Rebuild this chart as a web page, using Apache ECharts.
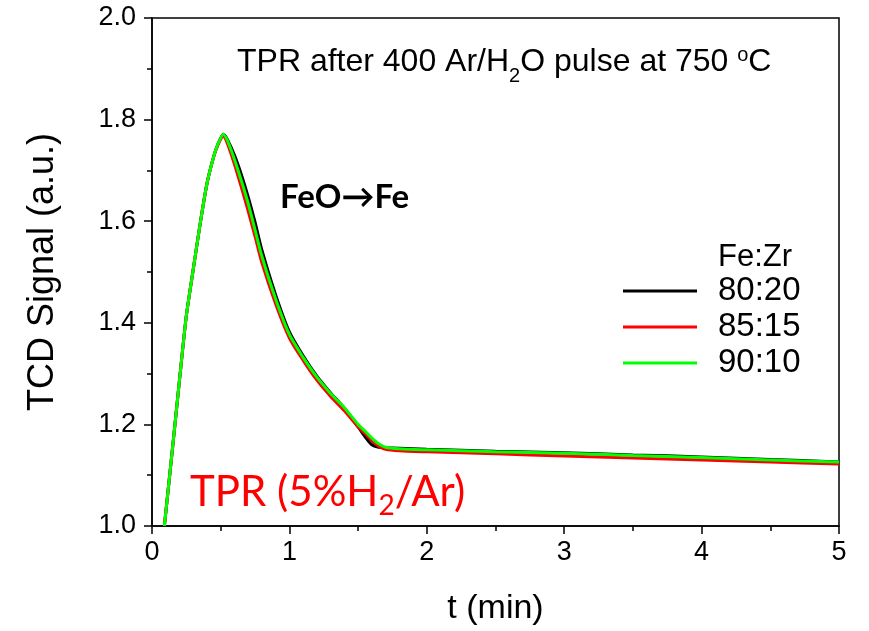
<!DOCTYPE html>
<html>
<head>
<meta charset="utf-8">
<script src="https://cdn.jsdelivr.net/npm/echarts@6/dist/echarts.min.js"></script>
<style>
html,body{margin:0;padding:0;background:#fff;}
#chart{width:869px;height:631px;}
</style>
</head>
<body>
<div id="chart"></div>
<script>
// ---- data ----
const timeMin = [0.09, 0.15, 0.20, 0.25, 0.30, 0.35, 0.40, 0.45, 0.48, 0.52, 0.55, 0.60, 0.65, 0.70, 0.75, 0.80, 0.90, 1.00, 1.10, 1.20, 1.30, 1.40, 1.50, 1.55, 1.60, 1.65, 1.70, 1.80, 2.00, 2.50, 3.00, 3.50, 4.00, 4.50, 5.00];
const signal8020 = [1.00, 1.155, 1.287, 1.414, 1.505, 1.594, 1.674, 1.728, 1.752, 1.771, 1.760, 1.730, 1.692, 1.648, 1.598, 1.543, 1.455, 1.382, 1.335, 1.295, 1.262, 1.232, 1.195, 1.176, 1.160, 1.155, 1.154, 1.153, 1.151, 1.147, 1.144, 1.140, 1.136, 1.131, 1.126];
const signal8515 = [1.00, 1.155, 1.287, 1.414, 1.505, 1.594, 1.674, 1.728, 1.750, 1.768, 1.752, 1.712, 1.667, 1.620, 1.570, 1.518, 1.437, 1.370, 1.326, 1.287, 1.255, 1.227, 1.195, 1.182, 1.168, 1.157, 1.151, 1.148, 1.146, 1.142, 1.138, 1.134, 1.130, 1.126, 1.122];
const signal9010 = [1.00, 1.155, 1.287, 1.414, 1.505, 1.594, 1.674, 1.728, 1.752, 1.771, 1.758, 1.722, 1.680, 1.635, 1.583, 1.531, 1.447, 1.377, 1.332, 1.293, 1.261, 1.233, 1.200, 1.187, 1.173, 1.162, 1.155, 1.152, 1.150, 1.146, 1.143, 1.139, 1.135, 1.130, 1.126];
const seriesNames = ['80:20', '85:15', '90:10'];
const seriesColors = ['#000000', '#ff0000', '#00ff00'];
const xTickLabels = ['0', '1', '2', '3', '4', '5'];
const yTickLabels = ['1.0', '1.2', '1.4', '1.6', '1.8', '2.0'];

function pairs(xs, ys) { return xs.map((x, i) => [x, ys[i]]); }
const allSignals = [signal8020, signal8515, signal9010];

const chart = echarts.init(document.getElementById('chart'), null, {renderer: 'canvas'});
const axisFont = 'Liberation Sans, Arial, sans-serif';
const calFont = 'Lato, "Open Sans", sans-serif';

const option = {
  backgroundColor: '#ffffff',
  animation: false,
  grid: {left: 152, top: 18, right: 30, bottom: 105, show: true, borderColor: '#000', borderWidth: 1.5, backgroundColor: 'transparent'},
  xAxis: {
    type: 'value', min: 0, max: 5, interval: 1,
    name: 't (min)', nameLocation: 'middle', nameGap: 66,
    nameTextStyle: {fontFamily: axisFont, fontSize: 34, color: '#000'},
    axisLine: {show: true, onZero: false, lineStyle: {color: '#000', width: 1.5}},
    axisTick: {show: true, inside: false, length: 8, lineStyle: {color: '#000', width: 1.5}},
    minorTick: {show: true, splitNumber: 2, length: 5, lineStyle: {color: '#000', width: 1.5}},
    splitLine: {show: false},
    axisLabel: {fontFamily: axisFont, fontSize: 27, color: '#000', margin: 13,
      formatter: v => xTickLabels[Math.round(v)] }
  },
  yAxis: {
    type: 'value', min: 1.0, max: 2.0, interval: 0.2,
    name: 'TCD Signal (a.u.)', nameLocation: 'middle', nameGap: 91, nameRotate: 90,
    nameTextStyle: {fontFamily: axisFont, fontSize: 36, color: '#000'},
    axisLine: {show: true, onZero: false, lineStyle: {color: '#000', width: 1.5}},
    axisTick: {show: true, inside: false, length: 8, lineStyle: {color: '#000', width: 1.5}},
    minorTick: {show: true, splitNumber: 2, length: 5, lineStyle: {color: '#000', width: 1.5}},
    splitLine: {show: false},
    axisLabel: {fontFamily: axisFont, fontSize: 27, color: '#000', margin: 16,
      formatter: v => yTickLabels[Math.round((v - 1) / 0.2)] }
  },
  legend: {
    orient: 'vertical', left: 618, top: 268, itemGap: 0,
    itemWidth: 74, itemHeight: 3, icon: 'rect',
    data: seriesNames,
    textStyle: {fontFamily: axisFont, fontSize: 33, color: '#000', lineHeight: 36, padding: [0, 0, 0, 16]}
  },
  series: seriesNames.map((n, i) => ({
    name: n, type: 'line', symbol: 'none', smooth: 0.25,
    data: pairs(timeMin, allSignals[i]),
    lineStyle: {color: seriesColors[i], width: 3},
    itemStyle: {color: seriesColors[i]},
    z: 2 + i
  })),
  graphic: [
    {type: 'text', left: 237, top: 38, style: {
      text: '{a|TPR after 400 Ar/H}{s|2}{a|O pulse at 750 }{p|o}{a|C}',
      rich: {
        a: {fontFamily: axisFont, fontSize: 32, lineHeight: 38, fill: '#000', verticalAlign: 'middle'},
        s: {fontFamily: axisFont, fontSize: 20, lineHeight: 24, fill: '#000', verticalAlign: 'middle', padding: [28, 0, 0, 0]},
        p: {fontFamily: axisFont, fontSize: 20, lineHeight: 24, fill: '#000', verticalAlign: 'middle', padding: [0, 0, 14, 0]}
      }}},
    {type: 'text', left: 718, top: 242, style: {text: 'Fe:Zr', fontFamily: axisFont, fontSize: 31, fill: '#000'}},
    {type: 'text', left: 280, top: 181, style: {text: 'FeO\u2192Fe', fontFamily: calFont, fontWeight: 'bold', fontSize: 33, fill: '#000'}},
    {type: 'text', left: 190, top: 464, style: {
      text: '{a|TPR (5%H}{s|2}{a|/Ar)}',
      rich: {
        a: {fontFamily: calFont, fontSize: 42, lineHeight: 50, fill: '#ff0000', verticalAlign: 'middle'},
        s: {fontFamily: calFont, fontSize: 28, lineHeight: 34, fill: '#ff0000', verticalAlign: 'middle', padding: [28, 0, 0, 0]}
      }}}
  ]
};
chart.setOption(option);
</script>
</body>
</html>
